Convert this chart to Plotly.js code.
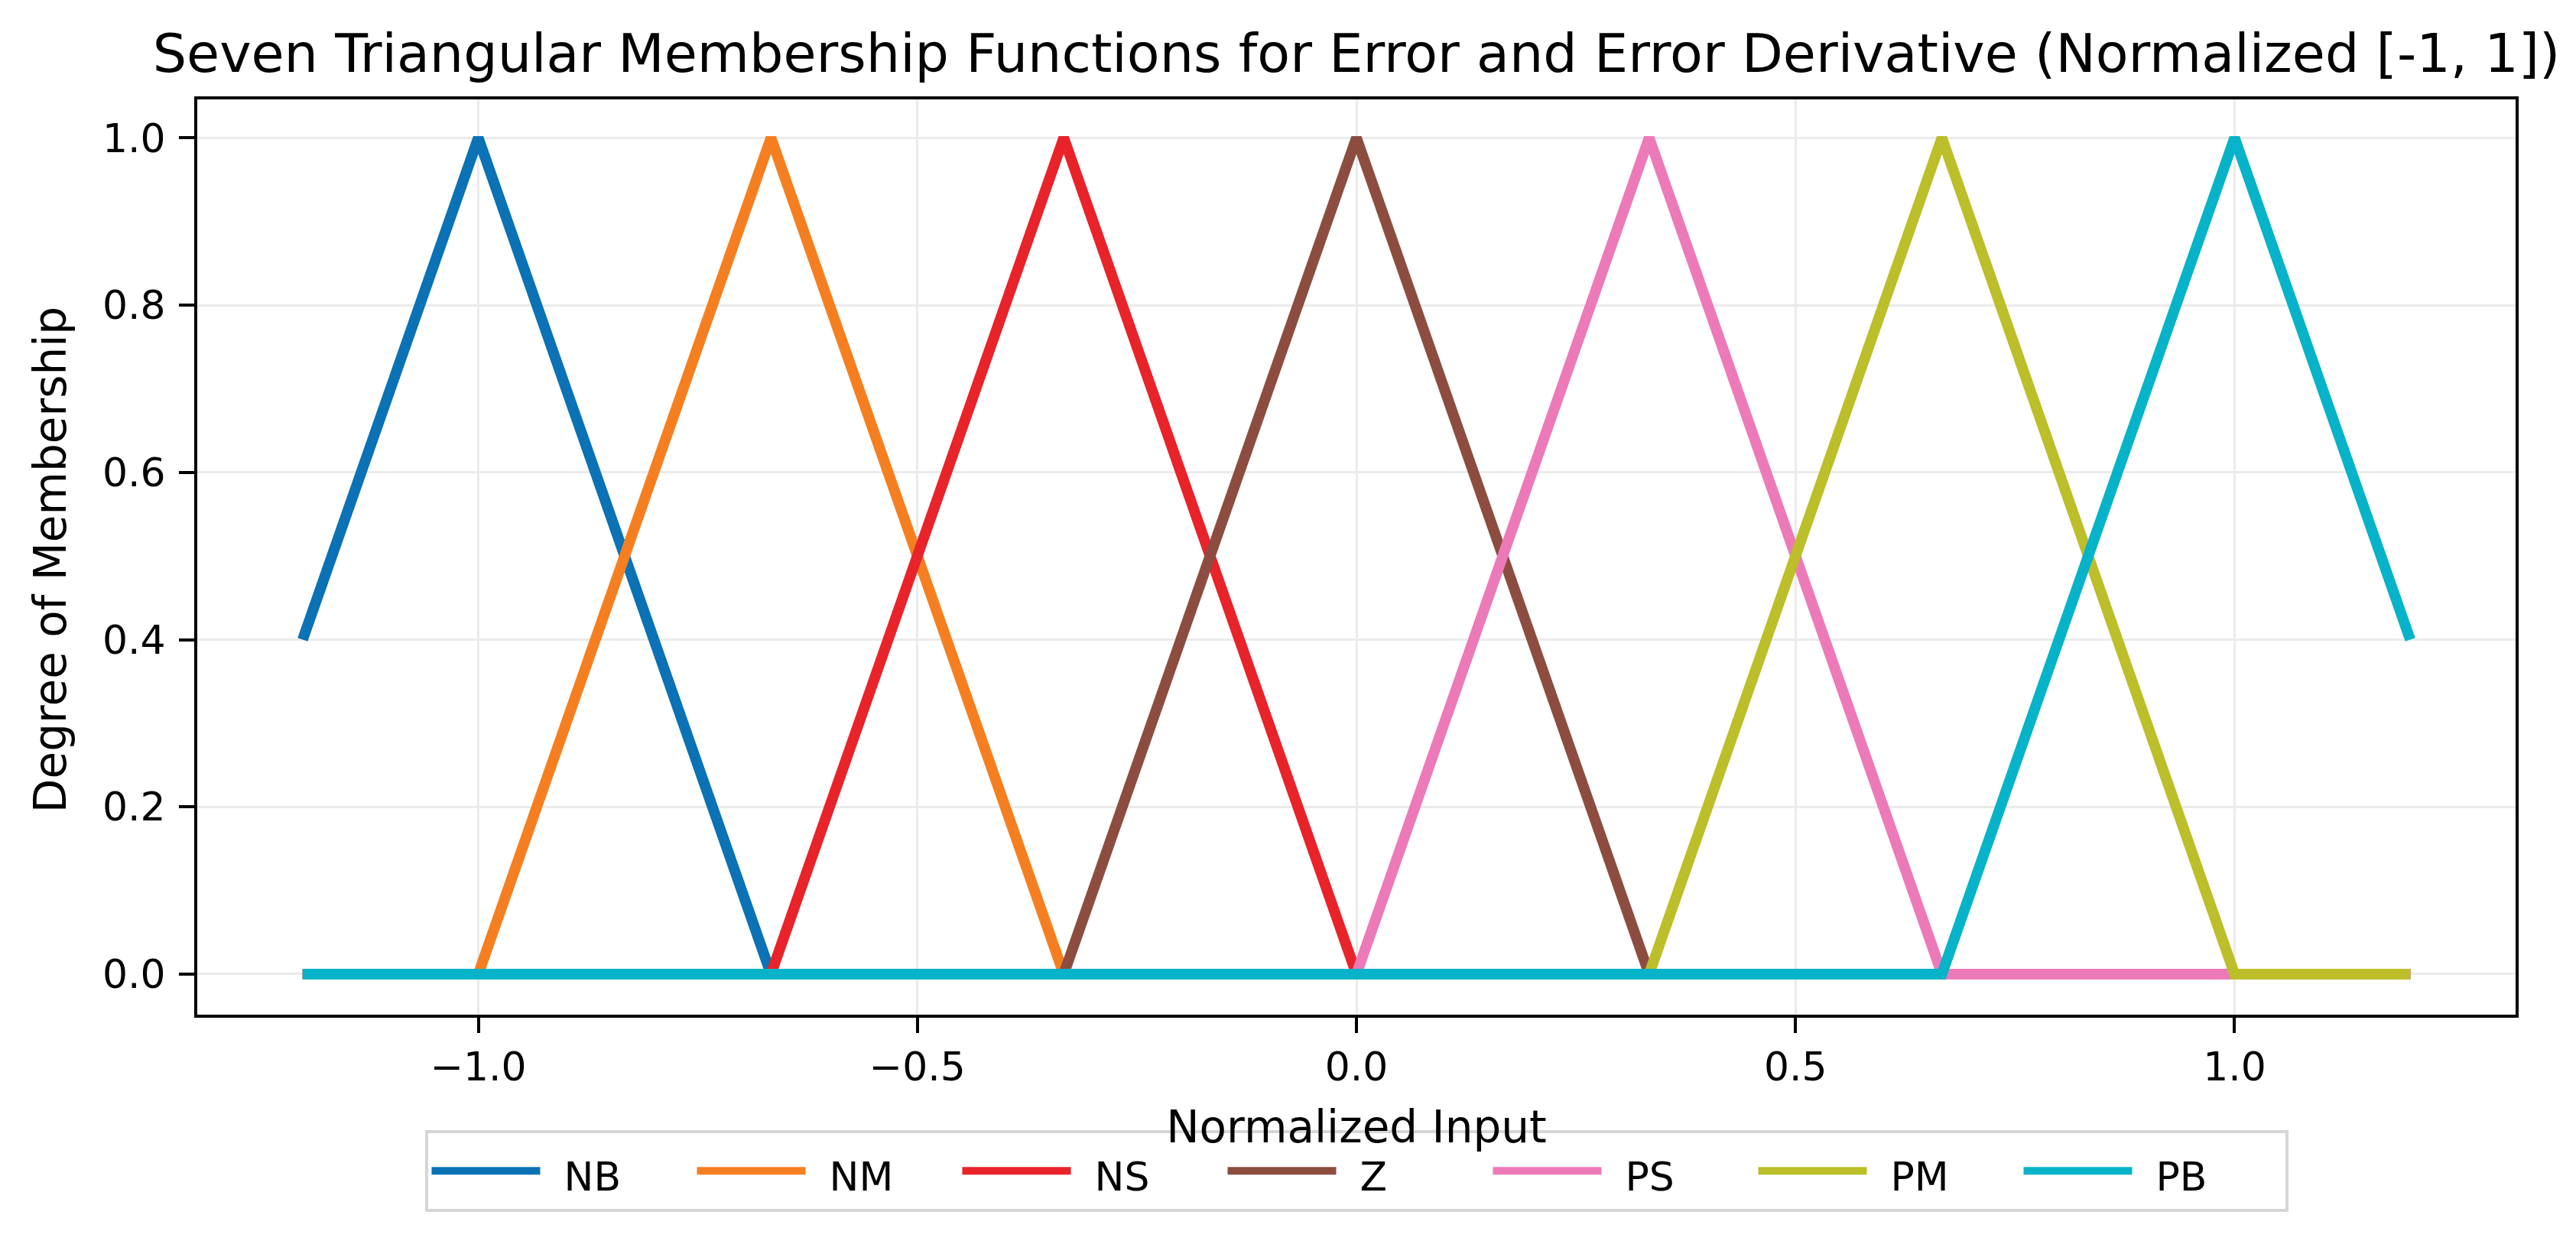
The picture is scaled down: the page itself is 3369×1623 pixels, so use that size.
<!DOCTYPE html>
<html>
<head>
<meta charset="utf-8">
<script src="https://cdn.plot.ly/plotly-3.0.1.min.js"></script>
<style>html,body{margin:0;padding:0;background:#fff;}#chart{width:3369px;height:1623px;}</style>
</head>
<body>
<div id="chart"></div>
<script>
// Membership function names (legend labels)
const names = ["NB", "NM", "NS", "Z", "PS", "PM", "PB"];

// Breakpoints (x = normalized input, y = degree of membership)
const xNB = [-1.2, -1.0, -0.6667, 1.2];
const yNB = [0.4, 1.0, 0.0, 0.0];

const xNM = [-1.2, -1.0, -0.6667, -0.3333, 1.2];
const yNM = [0.0, 0.0, 1.0, 0.0, 0.0];

const xNS = [-1.2, -0.6667, -0.3333, 0.0, 1.2];
const yNS = [0.0, 0.0, 1.0, 0.0, 0.0];

const xZ = [-1.2, -0.3333, 0.0, 0.3333, 1.2];
const yZ = [0.0, 0.0, 1.0, 0.0, 0.0];

const xPS = [-1.2, 0.0, 0.3333, 0.6667, 1.2];
const yPS = [0.0, 0.0, 1.0, 0.0, 0.0];

const xPM = [-1.2, 0.3333, 0.6667, 1.0, 1.2];
const yPM = [0.0, 0.0, 1.0, 0.0, 0.0];

const xPB = [-1.2, 0.6667, 1.0, 1.2];
const yPB = [0.0, 0.0, 1.0, 0.4];

const xTicks = [-1.0, -0.5, 0.0, 0.5, 1.0];
const xTickText = ["\u22121.0", "\u22120.5", "0.0", "0.5", "1.0"];
const yTicks = [0.0, 0.2, 0.4, 0.6, 0.8, 1.0];
const yTickText = ["0.0", "0.2", "0.4", "0.6", "0.8", "1.0"];

const colors = ["#0a72b5", "#f57f20", "#e8232a", "#8c4d40", "#ec7ab9", "#bcbe2a", "#06b3c8"];
const xs = [xNB, xNM, xNS, xZ, xPS, xPM, xPB];
const ys = [yNB, yNM, yNS, yZ, yPS, yPM, yPB];

const FONT = "DejaVu Sans, Liberation Sans, sans-serif";

const traces = names.map((n, i) => ({
  type: "scatter",
  mode: "lines",
  name: '<span style="font-size:52px">\u2002' + n + '</span>',
  x: xs[i],
  y: ys[i],
  line: {color: colors[i], width: 14},
  hoverinfo: "skip"
}));

const axisCommon = {
  showline: true,
  linecolor: "#000",
  linewidth: 4,
  mirror: true,
  ticks: "outside",
  ticklen: 20,
  tickwidth: 4,
  tickcolor: "#000",
  showgrid: true,
  gridcolor: "#ebebeb",
  gridwidth: 3,
  zeroline: false,
  tickfont: {family: FONT, size: 52, color: "#000"},
  automargin: false
};

const layout = {
  width: 3369,
  height: 1623,
  paper_bgcolor: "#fff",
  plot_bgcolor: "#fff",
  margin: {l: 258, r: 79, t: 130, b: 296},
  font: {family: FONT, color: "#000"},
  title: {
    text: "Seven Triangular Membership Functions for Error and Error Derivative (Normalized [-1, 1])",
    font: {family: FONT, size: 70, color: "#000"},
    x: 0.5, xref: "paper", xanchor: "center",
    y: 0.957, yref: "container", yanchor: "middle"
  },
  xaxis: Object.assign({}, axisCommon, {
    range: [-1.32, 1.32],
    tickmode: "array",
    tickvals: xTicks,
    ticktext: xTickText,
    title: {text: "Normalized Input", font: {family: FONT, size: 58, color: "#000"}, standoff: 30}
  }),
  yaxis: Object.assign({}, axisCommon, {
    range: [-0.0485, 1.046],
    tickmode: "array",
    tickvals: yTicks,
    ticktext: yTickText,
    ticklabelstandoff: 7
  }),
  annotations: [{
    text: "Degree of Membership",
    xref: "paper", yref: "paper",
    x: -0.0633, y: 0.497,
    xanchor: "center", yanchor: "middle",
    textangle: -90,
    showarrow: false,
    font: {family: FONT, size: 58, color: "#000"}
  }],
  showlegend: true,
  legend: {
    orientation: "h",
    x: 0.5, xanchor: "center", xref: "paper",
    y: -0.1261, yanchor: "top", yref: "paper",
    bgcolor: "rgba(255,255,255,0.8)",
    bordercolor: "#d6d6d6",
    borderwidth: 4,
    font: {family: FONT, size: 66, color: "#000"},
    itemwidth: 142,
    entrywidth: 190,
    traceorder: "normal"
  }
};

Plotly.newPlot("chart", traces, layout, {displayModeBar: false, staticPlot: true});
</script>
</body>
</html>
